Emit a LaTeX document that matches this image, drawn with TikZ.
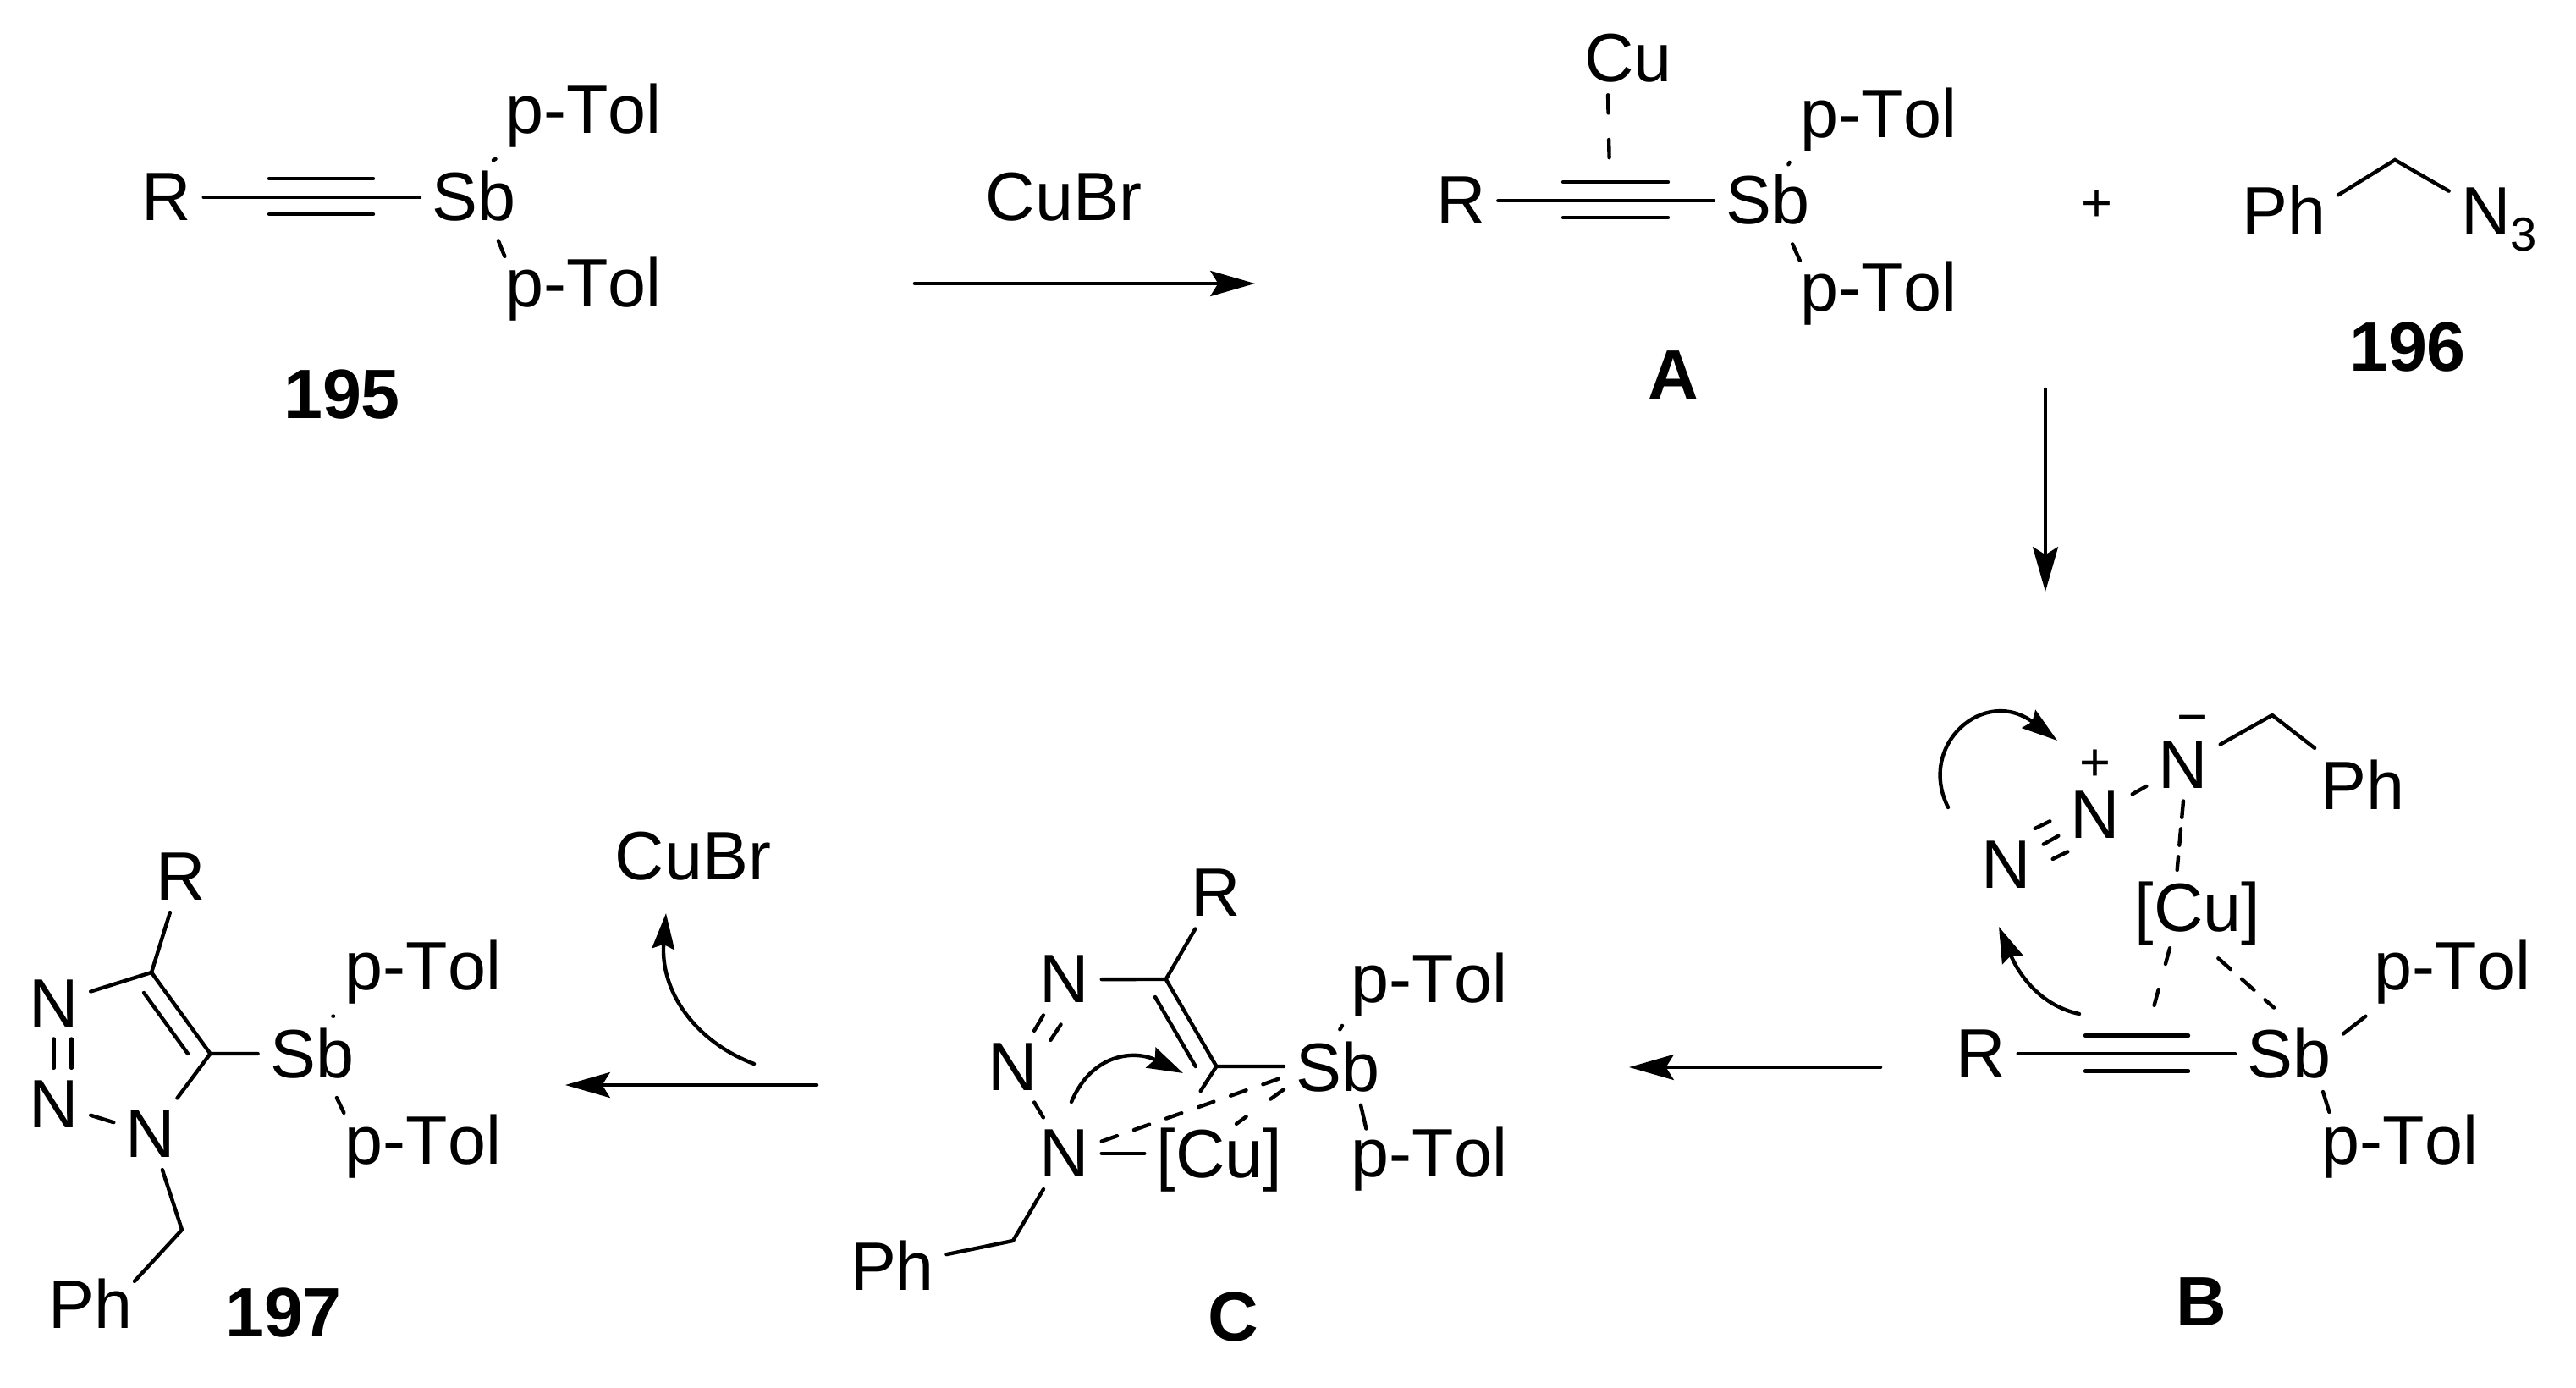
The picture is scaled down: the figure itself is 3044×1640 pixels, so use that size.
\documentclass[tikz,border=0pt]{standalone}
\usepackage{fontspec}
\setmainfont[Kerning = Off]{Liberation Sans}
\usetikzlibrary{arrows.meta,calc}

\begin{document}
\begin{tikzpicture}[x = 0.01cm, y = -0.01cm, line width = 1.25pt, line cap = round,
                      atom/.style = {font = \fontsize{23}{27}\selectfont, inner sep = 3.5pt, anchor = base},
                      tag/.style = {font = \fontsize{23.5}{27}\selectfont\bfseries, inner sep = 3.5pt, anchor = base},
                      charge/.style = {font = \fontsize{18}{20}\selectfont, inner sep = 0pt},
                      rxn/.style = {line width = 1.3pt, -{Stealth[length = 15pt, width = 8.5pt, inset = 2.6pt]}},
                      curly/.style = {-{Stealth[length = 12pt, width = 7.5pt, inset = 1.5pt]}}]
    \useasboundingbox (0, 0) rectangle (3044, 1640);

    \node [atom] (r1) at (197, 261){R};
    \node [atom] (sb1) at (560, 261){Sb};
    \node [atom] (tu1) at (689.5, 158){p-Tol};
    \node [atom] (tl1) at (689.5, 363){p-Tol};
    \node [tag] (n195) at (404, 495){195};
    \coordinate (c1a) at (318, 232);
    \coordinate (c1b) at (441, 232);
    \draw (r1.east) -- (r1.east -| sb1.west);
    \draw ([shift = {(0, -21)}]c1a) -- ([shift = {(0, -21)}]c1b);
    \draw ([shift = {(0, 21)}]c1a) -- ([shift = {(0, 21)}]c1b);
    \draw (sb1.60) -- (tu1.south west);
    \draw [shorten <= 2.5pt] (sb1.-60) -- ([shift = {(13.5, 13)}]tl1.north west);

    \node [atom] (cubr1) at (1257, 261){CuBr};
    \coordinate (a1s) at (1081, 335);
    \coordinate (a1e) at (1483, 335);
    \draw [rxn] (a1s) -- (a1e);

    \node [atom] (r2) at (1726.6, 265){R};
    \node [atom] (sb2) at (2089, 265){Sb};
    \node [atom] (cu2) at (1924, 97){Cu};
    \node [atom] (tu2) at (2220, 163){p-Tol};
    \node [atom] (tl2) at (2220, 368){p-Tol};
    \node [tag] (na) at (1977, 472){A};
    \coordinate (c2a) at (1847, 236);
    \coordinate (c2b) at (1971, 236);
    \coordinate (m2) at (1901.6, 188);
    \draw (r2.east) -- (r2.east -| sb2.west);
    \draw ([shift = {(0, -21)}]c2a) -- ([shift = {(0, -21)}]c2b);
    \draw ([shift = {(0, 21)}]c2a) -- ([shift = {(0, 21)}]c2b);
    \draw [dash pattern = on 6pt off 9pt] (cu2.-119) -- (m2);
    \draw (sb2.60) -- (tu2.south west);
    \draw [shorten <= 2.5pt] (sb2.-60) -- ([shift = {(13.5, 13)}]tl2.north west);

    \node [charge] (plus) at (2477.6, 243){+};
    \node [atom] (ph6) at (2699, 278){Ph};
    \node [atom] (n3) at (2953, 278){N\raisebox{-5.4pt}{\fontsize{16}{16}\selectfont 3}};
    \node [tag] (n196) at (2845, 439){196};
    \coordinate (ch6) at (2830, 189);
    \draw (ph6.16) -- (ch6) -- (n3.150);

    \coordinate (a2s) at (2417, 460);
    \coordinate (a2e) at (2417, 699);
    \draw [rxn] (a2s) -- (a2e);

    \node [atom] (n3a) at (2371, 1050){N};
    \node [atom] (n3b) at (2476, 991){N};
    \node [atom] (n3c) at (2580, 932){N};
    \node [charge] (pl3) at (2476, 904){+};
    \node [charge] (mi3) at (2591, 857){−};
    \node [atom] (ph3) at (2791.5, 957){Ph};
    \node [atom] (cu3) at (2597, 1101){[Cu]};
    \node [atom] (r3) at (2341, 1272.6){R};
    \node [atom] (sb3) at (2705, 1273.7){Sb};
    \node [atom] (tu3) at (2898, 1169.5){p-Tol};
    \node [atom] (tl3) at (2836, 1375){p-Tol};
    \node [tag] (nb) at (2601, 1566){B};
    \coordinate (ch3) at (2685, 845);
    \coordinate (c3a) at (2464, 1244.6);
    \coordinate (c3b) at (2586, 1244.6);
    \coordinate (m3) at (2545, 1190);
    \draw (n3a) -- (n3b) -- (n3c) -- (ch3) -- (ph3);
    \draw ([shift = {(-10, -18)}]n3a.30) -- ([shift = {(-10, -18)}]n3b.210);
    \draw ([shift = {(11, 18)}]n3a.30) -- ([shift = {(11, 18)}]n3b.210);
    \draw [dash pattern = on 5.5pt off 3.9pt] (n3c.south) -- (cu3.115);
    \draw [dash pattern = on 5.5pt off 8.9pt] ([shift = {(-33, -12)}]cu3.south) -- (m3);
    \draw [dash pattern = on 5.5pt off 5pt] (cu3.-65) -- ([shift = {(-18, -10)}]sb3.north);
    \draw (r3.east) -- (r3.east -| sb3.west);
    \draw ([shift = {(0, -21)}]c3a) -- ([shift = {(0, -21)}]c3b);
    \draw ([shift = {(0, 21)}]c3a) -- ([shift = {(0, 21)}]c3b);
    \draw (sb3.20) -- ([shift = {(4, 0)}]tu3.south west);
    \draw ([shift = {(40, 1)}]sb3.south) -- ([shift = {(23, 12)}]tl3.north west);
    \coordinate (k1s) at (2302, 954);
    \coordinate (k1e) at (2431, 875);
    \coordinate (k2s) at (2457, 1198);
    \coordinate (k2e) at (2362, 1095);
    \draw [curly] (k1s) .. controls (2265, 880) and (2345, 810) .. (k1e);
    \draw [curly] (k2s) .. controls (2410, 1188) and (2385, 1150) .. (k2e);

    \coordinate (a3s) at (2222, 1261);
    \coordinate (a3e) at (1925, 1261);
    \draw [rxn] (a3s) -- (a3e);

    \node [atom] (r4) at (1437, 1083){R};
    \node [atom] (n4a) at (1258, 1185){N};
    \node [atom] (n4b) at (1197, 1288){N};
    \node [atom] (n4c) at (1258, 1390.6){N};
    \node [atom] (cu4) at (1441, 1391){[Cu]};
    \node [atom] (sb4) at (1581, 1289){Sb};
    \node [atom] (tu4) at (1689, 1185){p-Tol};
    \node [atom] (tl4) at (1689, 1390.6){p-Tol};
    \node [atom] (ph4) at (1054.5, 1524.6){Ph};
    \node [tag] (nc) at (1457.5, 1584){C};
    \coordinate (c4a) at (1377.7, 1157);
    \coordinate (c4b) at (1437.4, 1260);
    \coordinate (d4a) at (1365, 1178);
    \coordinate (d4b) at (1412.7, 1260);
    \coordinate (ch4) at (1197, 1466);
    \draw (n4a) -- (c4a) -- (r4);
    \draw (c4a) -- (c4b) -- (c4b -| sb4.west);
    \draw (d4a) -- (d4b);
    \draw (n4a) -- (n4b) -- (n4c) -- (ch4) -- (ph4);
    \draw ([shift = {(20, 11)}]n4a.-120) -- ([shift = {(20, 11)}]n4b.60);
    \draw (n4c.east) -- (n4c.east -| cu4.west);
    \draw [dash pattern = on 5.5pt off 6pt] (n4c.18) -- (sb4.191);
    \draw [shorten >= 9.7pt] (c4b) -- (cu4.128);
    \draw [dash pattern = on 5.5pt off 10.1pt] (sb4.203) -- ([shift = {(20, 10)}]cu4.north);
    \draw ([shift = {(5, -4)}]sb4.north) -- ([shift = {(1, 0)}]tu4.south west);
    \draw ([shift = {(27, 1.5)}]sb4.south) -- ([shift = {(32, 16)}]tl4.north west);
    \coordinate (k4s) at (1266, 1302);
    \coordinate (k4e) at (1398, 1268);
    \draw [curly] (k4s) .. controls (1290, 1245) and (1340, 1240) .. (k4e);

    \coordinate (a4s) at (965, 1282);
    \coordinate (a4e) at (668, 1282);
    \draw [rxn] (a4s) -- (a4e);
    \node [atom] (cubr5) at (819, 1039.4){CuBr};
    \coordinate (k5s) at (891, 1257);
    \coordinate (k5e) at (787, 1079);
    \draw [curly] (k5s) .. controls (820, 1230) and (780, 1170) .. (k5e);

    \node [atom] (r5) at (214, 1063.6){R};
    \node [atom] (n5a) at (63.5, 1213){N};
    \node [atom] (n5b) at (63.5, 1332){N};
    \node [atom] (n5c) at (178, 1367.6){N};
    \node [atom] (sb5) at (368.6, 1273.8){Sb};
    \node [atom] (tu5) at (500, 1169.4){p-Tol};
    \node [atom] (tl5) at (500, 1375){p-Tol};
    \node [atom] (ph5) at (107, 1569){Ph};
    \node [tag] (n197) at (335, 1579){197};
    \coordinate (c5a) at (179, 1149);
    \coordinate (c5b) at (248.5, 1245);
    \coordinate (d5a) at (170, 1173);
    \coordinate (d5b) at (222, 1245);
    \coordinate (ch5) at (215, 1453);
    \draw (n5a) -- (c5a) -- (r5);
    \draw (c5a) -- (c5b) -- (c5b -| sb5.west);
    \draw (c5b) -- (n5c) -- (n5b);
    \draw (d5a) -- (d5b);
    \draw (n5a) -- (n5b);
    \draw ([shift = {(21, 0)}]n5a.south) -- ([shift = {(21, 0)}]n5b.north);
    \draw (n5c) -- (ch5) -- ([shift = {(-12, 18)}]ph5.north east);
    \draw (sb5.60) -- (tu5.south west);
    \draw [shorten <= 2.5pt] (sb5.-60) -- ([shift = {(13, 13)}]tl5.north west);
\end{tikzpicture}
\end{document}
